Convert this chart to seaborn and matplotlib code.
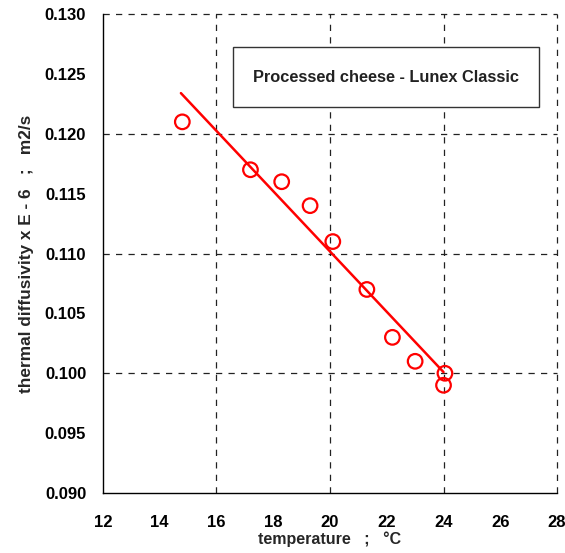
import matplotlib
matplotlib.use("Agg")
import matplotlib.pyplot as plt
import seaborn as sns
import pandas as pd
from matplotlib.ticker import FormatStrFormatter
from matplotlib.patches import Rectangle

sns.set_style("white")
plt.rcParams['font.family'] = ['Liberation Sans', 'DejaVu Sans']
plt.rcParams['font.weight'] = 'bold'

temperature = [14.8, 17.2, 18.3, 19.3, 20.1, 21.3, 22.2, 23.0, 24.05, 24.0]
diffusivity = [0.121, 0.117, 0.116, 0.114, 0.111, 0.107, 0.103, 0.101, 0.100, 0.099]
fit_temperature = [14.75, 24.0]
fit_diffusivity = [0.1234, 0.1001]

x_ticks = [12, 14, 16, 18, 20, 22, 24, 26, 28]
y_ticks = [0.090, 0.095, 0.100, 0.105, 0.110, 0.115, 0.120, 0.125, 0.130]
x_grid = [16, 20, 24, 28]
y_grid = [0.100, 0.110, 0.120, 0.130]

df = pd.DataFrame({"t": temperature, "d": diffusivity})
fit = pd.DataFrame({"t": fit_temperature, "d": fit_diffusivity})

fig = plt.figure(figsize=(5.65, 5.53), dpi=100)
ax = fig.add_axes([0.182, 0.1085, 0.804, 0.866])

for gx in x_grid:
    ax.axvline(gx, color='#222222', lw=0.9, ls=(0, (5, 5)), zorder=0, clip_on=False)
for gy in y_grid:
    ax.axhline(gy, color='#222222', lw=0.9, ls=(0, (5, 5)), zorder=0, clip_on=False)

sns.lineplot(data=fit, x="t", y="d", ax=ax, color='red', lw=1.8, zorder=3)
sns.scatterplot(data=df, x="t", y="d", ax=ax, marker='o', s=110,
                facecolors='none', edgecolor='red', linewidth=1.6, zorder=4)

ax.set_xlim(12, 28)
ax.set_ylim(0.090, 0.130)
ax.set_xticks(x_ticks)
ax.set_yticks(y_ticks)
ax.yaxis.set_major_formatter(FormatStrFormatter('%.3f'))
ax.tick_params(axis='both', direction='inout', length=12, width=1, colors='black',
               labelsize=12)
ax.tick_params(axis='x', pad=10)
ax.tick_params(axis='y', pad=6)
for lab in ax.get_xticklabels() + ax.get_yticklabels():
    lab.set_fontweight('bold')

for side in ['top', 'right']:
    ax.spines[side].set_visible(False)
for side in ['left', 'bottom']:
    ax.spines[side].set_color('black')
    ax.spines[side].set_linewidth(1.0)

ax.set_xlabel("temperature   ;   °C", fontsize=11.5, fontweight='bold', labelpad=1)
ax.set_ylabel("thermal diffusivity x E - 6   ;   m2/s", fontsize=12.4, fontweight='bold', labelpad=8)

box = Rectangle((233 / 565, 1 - 107 / 553), (539 - 233) / 565, 60 / 553,
                transform=fig.transFigure, facecolor='white', edgecolor='#333333',
                lw=1.0, zorder=5)
fig.patches.append(box)
fig.text(386 / 565, 1 - 78 / 553, "Processed cheese - Lunex Classic",
         ha='center', va='center', fontsize=11.8, fontweight='bold', color='#222222', zorder=6)

fig.savefig("out.png", dpi=100)
